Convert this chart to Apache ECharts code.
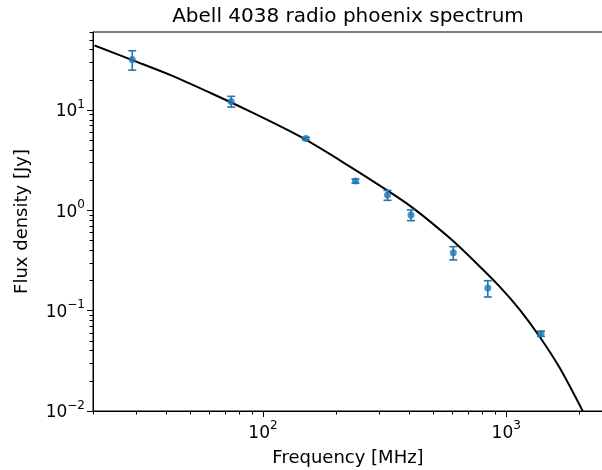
<!DOCTYPE html>
<html><head><meta charset="utf-8">
<script src="https://cdn.jsdelivr.net/npm/echarts@6/dist/echarts.min.js"></script>
<style>html,body{margin:0;padding:0;background:#fff}#c{width:602px;height:470px}</style>
</head><body><div id="c"></div>
<script>
// Observed data points
const obsFreq = [29, 74, 150, 240, 325, 406, 606, 840, 1390];
const obsFlux = [32, 12.2, 5.2, 1.96, 1.42, 0.90, 0.378, 0.168, 0.059];
const obsErr  = [7, 1.5, 0.15, 0.09, 0.16, 0.11, 0.057, 0.031, 0.0035];
// Model curve
const modelFreq = [20.3, 29.2, 41.7, 60.9, 86.1, 142.5, 228.5, 323, 415.5, 587.6, 756, 942, 1138, 1375, 1661, 2064];
const modelFlux = [44.0, 31.3, 22.3, 14.8, 10.0, 5.42, 2.72, 1.59, 1.047, 0.526, 0.296, 0.173, 0.102, 0.0547, 0.0268, 0.00998];
// Ticks
const xMajor = [100, 1000];
const xMinor = [20, 30, 40, 50, 60, 70, 80, 90, 200, 300, 400, 500, 600, 700, 800, 900, 2000];
const yMajor = [0.01, 0.1, 1, 10];
const yMinor = [0.02,0.03,0.04,0.05,0.06,0.07,0.08,0.09,0.2,0.3,0.4,0.5,0.6,0.7,0.8,0.9,2,3,4,5,6,7,8,9,20,30,40,50,60];

const FONT = 'DejaVu Sans';
function powLabel(v){
  const e = Math.round(Math.log10(v));
  return '{b|10}{s|' + (e < 0 ? '\u2212' + (-e) : e) + '}';
}
const rich = {
  b: {fontFamily: FONT, fontSize: 17, color: '#000', padding: [4, 0, 0, 0]},
  s: {fontFamily: FONT, fontSize: 12, color: '#000', padding: [0, 0, 11, 0]}
};
const X0 = 20, X1 = 2500, Y0 = 0.01, Y1 = 60;

const chart = echarts.init(document.getElementById('c'), null, {renderer: 'canvas'});
const lineData = modelFreq.map((f, i) => [f, modelFlux[i]]);
const ptData = obsFreq.map((f, i) => [f, obsFlux[i]]);
const errData = obsFreq.map((f, i) => [f, obsFlux[i] - obsErr[i], obsFlux[i] + obsErr[i]]);

chart.setOption({
  animation: false,
  backgroundColor: '#fff',
  grid: {left: 93, top: 32, width: 510, height: 379, outerBoundsMode: 'none', containLabel: false,
         show: true, borderColor: '#000', borderWidth: 1, backgroundColor: 'transparent'},
  graphic: [{
    type: 'text', x: 348, y: 17,
    style: {text: 'Abell 4038 radio phoenix spectrum', fontFamily: FONT, fontSize: 20, fill: '#000', textAlign: 'center', textVerticalAlign: 'middle'}
  }],
  xAxis: [{
    type: 'log', logBase: 10, min: X0, max: X1, position: 'bottom',
    name: 'Frequency [MHz]', nameLocation: 'middle', nameGap: 38,
    nameTextStyle: {fontFamily: FONT, fontSize: 18, color: '#000'},
    axisLine: {show: true, lineStyle: {color: '#000', width: 1}},
    axisTick: {show: true, inside: false, length: 6, customValues: xMajor, lineStyle: {color: '#000', width: 1}},
    axisLabel: {show: true, customValues: xMajor, margin: 9, formatter: powLabel, rich: rich},
    splitLine: {show: false}
  }, {
    type: 'log', logBase: 10, min: X0, max: X1, position: 'bottom', offset: 0,
    axisLine: {show: false},
    axisTick: {show: true, inside: false, length: 3.5, customValues: xMinor, lineStyle: {color: '#000', width: 1}},
    axisLabel: {show: false},
    splitLine: {show: false}
  }],
  yAxis: [{
    type: 'log', logBase: 10, min: Y0, max: Y1, position: 'left',
    name: 'Flux density [Jy]', nameLocation: 'middle', nameGap: 62, nameRotate: 90,
    nameTextStyle: {fontFamily: FONT, fontSize: 18, color: '#000'},
    axisLine: {show: true, lineStyle: {color: '#000', width: 1}},
    axisTick: {show: true, inside: false, length: 6, customValues: yMajor, lineStyle: {color: '#000', width: 1}},
    axisLabel: {show: true, customValues: yMajor, margin: 8, formatter: powLabel, rich: rich},
    splitLine: {show: false}
  }, {
    type: 'log', logBase: 10, min: Y0, max: Y1, position: 'left', offset: 0,
    axisLine: {show: false},
    axisTick: {show: true, inside: false, length: 3.5, customValues: yMinor, lineStyle: {color: '#000', width: 1}},
    axisLabel: {show: false},
    splitLine: {show: false}
  }],
  series: [{
    type: 'line', data: lineData, xAxisIndex: 0, yAxisIndex: 0,
    showSymbol: false, symbol: 'none', clip: true, z: 2,
    smooth: 0.3,
    lineStyle: {color: '#000', width: 2}
  }, {
    type: 'custom', data: errData, xAxisIndex: 0, yAxisIndex: 0, z: 3,
    renderItem: function(params, api){
      const f = api.value(0), lo = api.value(1), hi = api.value(2);
      const pHi = api.coord([f, hi]), pLo = api.coord([f, lo]);
      const cap = 4;
      const st = {stroke: '#1f77b4', lineWidth: 1.6};
      return {type: 'group', children: [
        {type: 'line', shape: {x1: pHi[0], y1: pHi[1], x2: pLo[0], y2: pLo[1]}, style: st},
        {type: 'line', shape: {x1: pHi[0]-cap, y1: pHi[1], x2: pHi[0]+cap, y2: pHi[1]}, style: st},
        {type: 'line', shape: {x1: pLo[0]-cap, y1: pLo[1], x2: pLo[0]+cap, y2: pLo[1]}, style: st}
      ]};
    }
  }, {
    type: 'scatter', data: ptData, xAxisIndex: 0, yAxisIndex: 0, z: 4,
    symbol: 'circle', symbolSize: 7, itemStyle: {color: '#1f77b4'}
  }]
});
</script></body></html>
